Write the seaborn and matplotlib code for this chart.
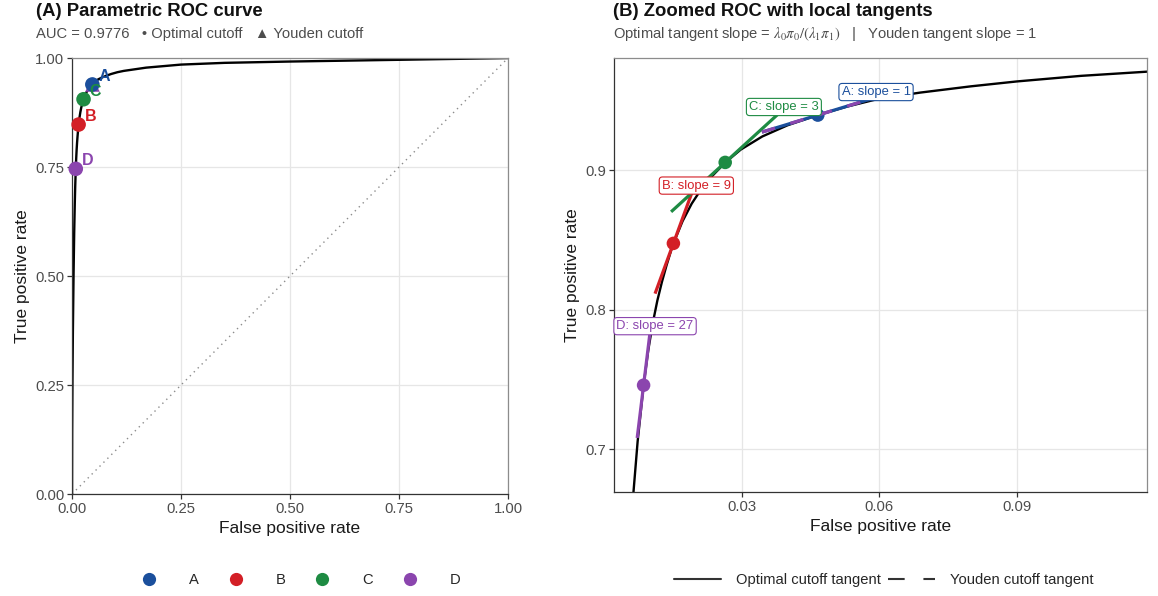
import matplotlib
matplotlib.use("Agg")
import matplotlib.pyplot as plt
from matplotlib.lines import Line2D
import pandas as pd
import seaborn as sns

# ROC curve
roc_fpr = [0.0, 0.0003, 0.001, 0.002, 0.0035, 0.005, 0.0063, 0.0073, 0.0086,
           0.0096, 0.0106, 0.0116, 0.0126, 0.0136, 0.0146, 0.0151, 0.0171,
           0.0191, 0.0211, 0.0231, 0.0264, 0.0298, 0.0345, 0.040, 0.0466,
           0.053, 0.0598, 0.0689, 0.080, 0.090, 0.104, 0.1184, 0.17, 0.25,
           0.35, 0.5, 0.75, 1.0]
roc_tpr = [0.0, 0.141, 0.26, 0.3755, 0.503, 0.6006, 0.6656, 0.7056, 0.7459,
           0.7706, 0.7904, 0.8065, 0.8199, 0.8317, 0.8424, 0.8474, 0.8634,
           0.876, 0.886, 0.8942, 0.9054, 0.9147, 0.9241, 0.9321, 0.9394,
           0.9455, 0.951, 0.9555, 0.960, 0.9635, 0.9675, 0.9705, 0.978, 0.985,
           0.989, 0.992, 0.996, 1.0]

cut_names = ["A", "B", "C", "D"]
cut_fpr = [0.0466, 0.0151, 0.0264, 0.0086]
cut_tpr = [0.9394, 0.8475, 0.9055, 0.7459]
cut_slope = [1, 9, 3, 27]
tangent_half = [0.0122, 0.0040, 0.0118, 0.0014]
label_fpr = [0.0593, 0.0201, 0.0392, 0.0111]
label_tpr = [0.9559, 0.8889, 0.9452, 0.7882]
youden_fpr = 0.0466
youden_tpr = 0.9394
youden_slope = 1
auc = 0.9776
colors = ["#1B4F9C", "#D31F26", "#1E8B43", "#8B45AE"]
youden_color = "#8B45AE"

sns.set_theme(style="whitegrid")
plt.rcParams["font.family"] = ["Liberation Sans", "DejaVu Sans"]
plt.rcParams["mathtext.fontset"] = "stix"
plt.rcParams["grid.color"] = "#E6E6E6"
plt.rcParams["grid.linewidth"] = 0.9

cuts = pd.DataFrame({"cutoff": cut_names, "fpr": cut_fpr, "tpr": cut_tpr})
roc = pd.DataFrame({"fpr": roc_fpr, "tpr": roc_tpr})

fig = plt.figure(figsize=(11.58, 5.96), dpi=100)
axA = fig.add_axes([0.0622, 0.1711, 0.3765, 0.7315])
axB = fig.add_axes([0.5302, 0.1745, 0.4603, 0.7282])


def style_axes(ax):
    for side in ["left", "bottom"]:
        ax.spines[side].set_color("#333333")
        ax.spines[side].set_linewidth(0.9)
    for side in ["top", "right"]:
        ax.spines[side].set_color("#8C8C8C")
        ax.spines[side].set_linewidth(0.9)
    ax.tick_params(axis="both", which="major", length=3.5, width=0.9,
                   color="#333333", labelcolor="#4D4D4D", labelsize=10.7,
                   bottom=True, left=True, pad=2)
    ax.set_xlabel("False positive rate", fontsize=12.5, color="#1A1A1A", labelpad=4)
    ax.set_ylabel("True positive rate", fontsize=12.5, color="#1A1A1A", labelpad=4)


# ---- panel A ----
axA.axline((0, 0), slope=1, color="#8C8C8C", lw=1.0, ls=(0, (1, 3)))
sns.lineplot(data=roc, x="fpr", y="tpr", ax=axA, color="black", lw=1.7,
             sort=False, estimator=None)
axA.scatter([youden_fpr], [youden_tpr], marker="^", s=110,
            color=youden_color, zorder=4, clip_on=False, linewidths=0)
sns.scatterplot(data=cuts, x="fpr", y="tpr", hue="cutoff", palette=colors,
                s=110, ax=axA, legend=False, edgecolor="none", zorder=5)
for coll in axA.collections:
    coll.set_clip_on(False)
for name, x, y, c in zip(cut_names, cut_fpr, cut_tpr, colors):
    axA.annotate(name, (x, y), xytext=(12, 8), textcoords="offset pixels",
                 ha="center", va="center", fontsize=11.5, fontweight="bold",
                 color=c, zorder=6)
axA.set_xlim(0, 1)
axA.set_ylim(0, 1)
axA.set_xticks([0, 0.25, 0.5, 0.75, 1.0])
axA.set_yticks([0, 0.25, 0.5, 0.75, 1.0])
axA.set_xticklabels(["0.00", "0.25", "0.50", "0.75", "1.00"])
axA.set_yticklabels(["0.00", "0.25", "0.50", "0.75", "1.00"])
style_axes(axA)

# ---- panel B ----
sns.lineplot(data=roc, x="fpr", y="tpr", ax=axB, color="black", lw=1.7,
             sort=False, estimator=None, zorder=2)
sns.scatterplot(data=cuts, x="fpr", y="tpr", hue="cutoff", palette=colors,
                s=95, ax=axB, legend=False, edgecolor="none", zorder=3)
for x0, y0, s, h, c in zip(cut_fpr, cut_tpr, cut_slope, tangent_half, colors):
    axB.plot([x0 - h, x0 + h], [y0 - s * h, y0 + s * h], color=c, lw=2.3,
             solid_capstyle="butt", zorder=4)
yh = tangent_half[0]
axB.plot([youden_fpr - yh, youden_fpr + yh],
         [youden_tpr - youden_slope * yh, youden_tpr + youden_slope * yh],
         color=youden_color, lw=2.3, ls=(0, (4.3, 5)), zorder=5)
for name, s, x, y, c in zip(cut_names, cut_slope, label_fpr, label_tpr, colors):
    axB.text(x, y, f"{name}: slope = {s}", color=c, ha="center", va="center",
             fontsize=9.4, zorder=6,
             bbox=dict(boxstyle="round,pad=0.2,rounding_size=0.25", fc="white",
                       ec=c, lw=0.8))
axB.set_xlim(0.00214, 0.1184)
axB.set_ylim(0.6694, 0.9803)
axB.set_xticks([0.03, 0.06, 0.09])
axB.set_yticks([0.7, 0.8, 0.9])
axB.set_xticklabels(["0.03", "0.06", "0.09"])
axB.set_yticklabels(["0.7", "0.8", "0.9"])
style_axes(axB)

# ---- titles ----
fig.text(0.031, 0.9815, "(A) Parametric ROC curve", fontsize=13.3,
         fontweight="bold", va="center", color="#111111")
fig.text(0.031, 0.943, f"AUC = {auc}   \u2022 Optimal cutoff   \u25B2 Youden cutoff",
         fontsize=10.6, va="center", color="#4D4D4D")
fig.text(0.5294, 0.9815, "(B) Zoomed ROC with local tangents", fontsize=13.3,
         fontweight="bold", va="center", color="#111111")
fig.text(0.5294, 0.943,
         r"Optimal tangent slope = $\lambda_0\pi_0/(\lambda_1\pi_1)$   |   Youden tangent slope = 1",
         fontsize=10.6, va="center", color="#4D4D4D")

# ---- legends ----
handles_a = [Line2D([], [], ls="none", marker="o", markersize=9.5,
                    markerfacecolor=c, markeredgecolor="none") for c in colors]
fig.legend(handles_a, cut_names, loc="center", bbox_to_anchor=(0.26, 0.027),
           ncol=4, frameon=False, fontsize=10.6, handlelength=1,
           handletextpad=2.2, columnspacing=2.0)
handles_b = [Line2D([], [], color="#333333", lw=1.5),
             Line2D([], [], color="#333333", lw=1.5, ls=(0, (8, 9)))]
fig.legend(handles_b, ["Optimal cutoff tangent", "Youden cutoff tangent"],
           loc="center", bbox_to_anchor=(0.763, 0.027), ncol=2, frameon=False,
           fontsize=10.6, handlelength=3.2, handletextpad=1.0, columnspacing=0.5)

fig.savefig("out.png", dpi=100)
